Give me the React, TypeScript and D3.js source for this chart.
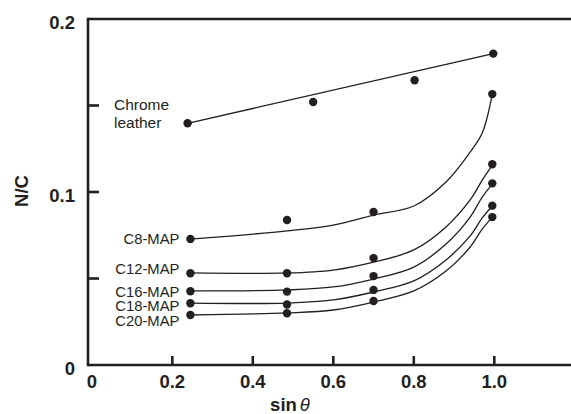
import React from "react";
import * as d3 from "d3";

// sin θ positions of the measurements
const sinTheta = [0.245, 0.485, 0.70, 0.995];
// sin θ positions along which the fitted curves are traced
const fitSinTheta = [0.245, 0.485, 0.60, 0.70, 0.80, 0.88, 0.94, 0.97, 0.995];

const seriesNames = ["C8-MAP", "C12-MAP", "C16-MAP", "C18-MAP", "C20-MAP"];

// measured N/C ratios
const c8Values = [0.0728, 0.0838, 0.0884, 0.1566];
const c12Values = [0.0530, 0.0530, 0.0618, 0.1160];
const c16Values = [0.0426, 0.0424, 0.0514, 0.1050];
const c18Values = [0.0357, 0.0350, 0.0434, 0.0921];
const c20Values = [0.0289, 0.0299, 0.0370, 0.0855];

// fitted trend curves
const c8Fit = [0.0728, 0.0775, 0.0809, 0.0867, 0.0919, 0.1058, 0.1231, 0.1341, 0.1566];
const c12Fit = [0.0532, 0.0532, 0.0549, 0.0595, 0.0665, 0.0798, 0.0954, 0.1069, 0.1156];
const c16Fit = [0.0428, 0.0434, 0.0451, 0.0497, 0.0566, 0.0699, 0.0855, 0.0971, 0.1046];
const c18Fit = [0.0358, 0.0358, 0.0376, 0.0422, 0.0486, 0.0607, 0.0746, 0.0850, 0.0919];
const c20Fit = [0.0289, 0.0301, 0.0318, 0.0364, 0.0428, 0.0543, 0.0682, 0.0786, 0.0855];

// chrome leather reference
const chromeSinTheta = [0.238, 0.55, 0.802, 0.9975];
const chromeValues = [0.1397, 0.152, 0.1646, 0.18];

const xTickValues = [0.2, 0.4, 0.6, 0.8, 1.0];
const xTickLabels = ["0.2", "0.4", "0.6", "0.8", "1.0"];
const xZeroLabel = "0";
const yTickValues = [0.05, 0.1, 0.15];
const yLabelValues = [0, 0.1, 0.2];
const yLabelTexts = ["0", "0.1", "0.2"];

const W = 571;
const H = 414;
const INK = "#231f20";
const FONT = "'Liberation Sans', Arial, Helvetica, sans-serif";

// vertical nudges for the series labels (px)
const labelNudge = [0, -5, 0, 3, 6];

export default function App() {
  const x = d3.scaleLinear().domain([0, 1]).range([91.8, 494.3]);
  const y = d3.scaleLinear().domain([0, 0.2]).range([365, 19]);

  const axisX = 88;
  const axisY = y(0);
  const topY = y(0.2);

  const values = [c8Values, c12Values, c16Values, c18Values, c20Values];
  const fits = [c8Fit, c12Fit, c16Fit, c18Fit, c20Fit];

  const curve = d3
    .line<[number, number]>()
    .x((d) => x(d[0]))
    .y((d) => y(d[1]))
    .curve(d3.curveCatmullRom.alpha(0.5));

  const straight = d3
    .line<[number, number]>()
    .x((d) => x(d[0]))
    .y((d) => y(d[1]));

  const chromeEnds: [number, number][] = [
    [chromeSinTheta[0], chromeValues[0]],
    [chromeSinTheta[chromeSinTheta.length - 1], chromeValues[chromeValues.length - 1]],
  ];

  return (
    <svg
      width={W}
      height={H}
      viewBox={`0 0 ${W} ${H}`}
      style={{ position: "absolute", left: 0, top: 0, background: "#fff" }}
      fontFamily={FONT}
    >
      <rect width={W} height={H} fill="#fff" />

      {/* frame: left axis, bottom axis, top rule */}
      <line x1={axisX} x2={axisX} y1={topY - 1.3} y2={axisY + 1.3} stroke={INK} strokeWidth={2.6} />
      <line x1={axisX} x2={W} y1={axisY} y2={axisY} stroke={INK} strokeWidth={2.6} />
      <line x1={axisX} x2={W} y1={topY} y2={topY} stroke={INK} strokeWidth={2.6} />

      {/* ticks */}
      {xTickValues.map((v) => (
        <line key={`xt${v}`} x1={x(v)} x2={x(v)} y1={axisY} y2={axisY - 9} stroke={INK} strokeWidth={2.6} />
      ))}
      {yTickValues.map((v) => (
        <line key={`yt${v}`} x1={axisX} x2={axisX + 11} y1={y(v)} y2={y(v)} stroke={INK} strokeWidth={2.6} />
      ))}

      {/* tick labels */}
      <g fontWeight="bold" fontSize={18.5} fill={INK}>
        <text x={x(0)} y={axisY + 23} textAnchor="middle">{xZeroLabel}</text>
        {xTickValues.map((v, i) => (
          <text key={`xl${v}`} x={x(v)} y={axisY + 23} textAnchor="middle">
            {xTickLabels[i]}
          </text>
        ))}
        {yLabelValues.map((v, i) => (
          <text key={`yl${v}`} x={75} y={y(v) + 10} textAnchor="end">
            {yLabelTexts[i]}
          </text>
        ))}
      </g>

      {/* axis titles */}
      <text x={290} y={411} textAnchor="middle" fill={INK} fontSize={18.5}>
        <tspan fontWeight="bold">sin</tspan>
        <tspan fontStyle="italic" dx={3}>θ</tspan>
      </text>
      <text
        transform={`translate(27.5, ${191}) rotate(-90)`}
        textAnchor="middle"
        fontWeight="bold"
        fontSize={18.5}
        fill={INK}
      >
        N/C
      </text>

      {/* chrome leather */}
      <path d={straight(chromeEnds) ?? ""} fill="none" stroke={INK} strokeWidth={1.3} />
      {chromeSinTheta.map((s, i) => (
        <circle key={`ch${i}`} cx={x(s)} cy={y(chromeValues[i])} r={4.2} fill={INK} />
      ))}
      <text x={114} y={110} fontSize={15.5} fill={INK}>Chrome</text>
      <text x={114} y={128} fontSize={15.5} fill={INK}>leather</text>

      {/* MAP series: fitted curves, measured points, labels */}
      {seriesNames.map((name, si) => {
        const fitPts = fitSinTheta.map((s, i) => [s, fits[si][i]] as [number, number]);
        return (
          <g key={name}>
            <path d={curve(fitPts) ?? ""} fill="none" stroke={INK} strokeWidth={1.3} />
            {sinTheta.map((s, i) => (
              <circle key={`${name}${i}`} cx={x(s)} cy={y(values[si][i])} r={4.2} fill={INK} />
            ))}
            <text
              x={x(sinTheta[0]) - 11}
              y={y(values[si][0]) + labelNudge[si] + 5.2}
              textAnchor="end"
              fontSize={14.8}
              fill={INK}
            >
              {name}
            </text>
          </g>
        );
      })}
    </svg>
  );
}
